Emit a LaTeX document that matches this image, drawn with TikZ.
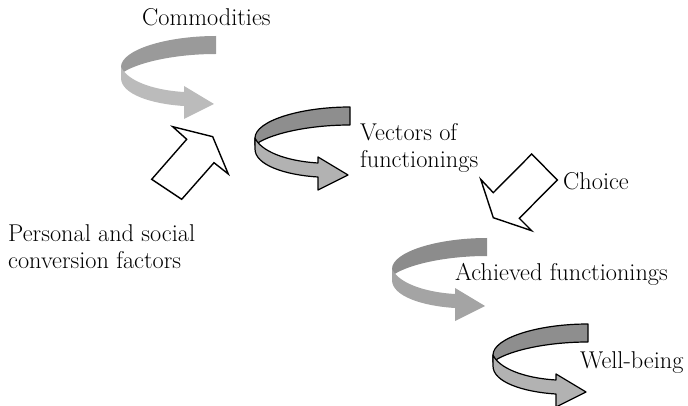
\documentclass[tikz,border=0pt]{standalone}
\definecolor{bandA}{HTML}{9A9A9A}
\definecolor{bandB}{HTML}{BBBBBB}
\definecolor{bandC}{HTML}{8E8E8E}
\definecolor{bandD}{HTML}{B2B2B2}
\definecolor{bandE}{HTML}{8C8C8C}
\definecolor{bandF}{HTML}{A4A4A4}
\tikzset{
  lbl/.style={inner sep=0pt, anchor=base west, align=left,
              font=\rmfamily\fontsize{24.3}{27}\selectfont},
  blockarrow/.style={draw=black, fill=white, line width=1.4pt, line join=miter},
  ribbonline/.style={draw=black, line width=1.2pt, line join=round},
  noline/.style={}
}
% U-turn ribbon arrow: #1,#2 top-left corner, #3 back band, #4 front band, #5 stroke style
\newcommand\uturnarrow[5]{%
  \begin{scope}[shift={(#1,#2)}]
    \path[#5, fill=#3] (95,0) .. controls (45,0) and (0,14) .. (0,31)
      -- (0,38) .. controls (12,28) and (50,18) .. (95,18) -- cycle;
    \path[#5, fill=#4] (63,56) .. controls (30,54) and (6,44) .. (0,31)
      -- (0,42) .. controls (0,58) and (30,68) .. (63,70)
      -- (63,83) -- (93,68) -- (63,50) -- cycle;
  \end{scope}}
\begin{document}
\begin{tikzpicture}[x=1pt, y=-1pt]
  \useasboundingbox (0,0) rectangle (688,406);

  % curved ribbon arrows
  \uturnarrow{121}{36}{bandA}{bandB}{noline}
  \uturnarrow{255}{107}{bandC}{bandD}{ribbonline}
  \uturnarrow{392}{238}{bandE}{bandF}{noline}
  \uturnarrow{493}{324}{bandC}{bandD}{ribbonline}

  % block arrows
  \draw[blockarrow] (172.7,126.7) -- (186.7,139.3) -- (151.7,179.3) -- (181.7,199.3)
    -- (214,162.7) -- (228.3,174) -- (212.7,136.7) -- cycle;
  \draw[blockarrow] (531.7,154) -- (557.3,180) -- (519.3,218.3) -- (531.7,230.7)
    -- (493.3,217.7) -- (480.7,179.3) -- (493.3,192.7) -- cycle;

  % labels
  \node[lbl] (commod) at (142,26) {Commodities};
  \node[lbl] (vectors) at (360,168) {Vectors of\\functionings};
  \node[lbl] (choice) at (563,190) {Choice};
  \node[lbl] (factors) at (8,268) {Personal and social\\conversion factors};
  \node[lbl] (achieved) at (455,280) {Achieved functionings};
  \node[lbl] (wellbeing) at (580,368) {Well-being};
\end{tikzpicture}
\end{document}
